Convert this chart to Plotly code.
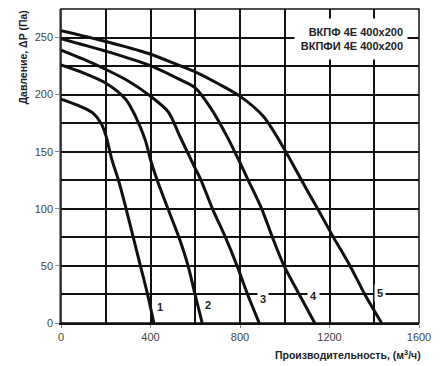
import plotly.graph_objects as go

# curve data: flow (m3/h) and pressure (Pa)
c1_x = [0, 83, 142, 179, 201, 226, 257, 291, 323, 355, 387, 415]
c1_y = [196, 190, 184, 175, 164, 144, 125, 100, 75, 50, 25, 0]
c2_x = [0, 100, 201, 289, 333, 377, 400, 430, 478, 527, 568, 599, 631]
c2_y = [226, 219, 210, 196, 181, 160, 143, 125, 100, 75, 50, 25, 0]
c3_x = [0, 100, 201, 300, 391, 479, 530, 596, 626, 677, 735, 787, 834, 886]
c3_y = [239, 231, 222, 212, 200, 185, 164, 137, 125, 100, 75, 50, 25, 0]
c4_x = [0, 201, 391, 523, 600, 670, 743, 801, 837, 897, 945, 997, 1065, 1134]
c4_y = [249, 238, 226, 214, 206, 188, 163, 140, 125, 100, 75, 50, 25, 0]
c5_x = [0, 201, 391, 523, 600, 699, 801, 904, 999, 1075, 1147, 1218, 1292, 1358, 1433]
c5_y = [256, 246.5, 236, 226, 220, 210, 198.5, 181, 152, 125, 100, 75, 50, 25, 0]

curves = [(c1_x, c1_y), (c2_x, c2_y), (c3_x, c3_y), (c4_x, c4_y), (c5_x, c5_y)]
labels = ["1", "2", "3", "4", "5"]
label_x = [444, 655, 901, 1130, 1426]
label_y = [14, 16, 21, 23.5, 26]

title_lines = ["ВКПФ 4Е 400x200", "ВКПФИ 4Е 400x200"]
x_title = "Производительность, (м<sup>3</sup>/ч)"
y_title = "Давление, ΔP (Па)"

FONT = "Liberation Sans, Arial"

fig = go.Figure()
for cx, cy in curves:
    fig.add_trace(go.Scatter(x=cx, y=cy, mode="lines",
                             line=dict(color="#111111", width=3, shape="spline", smoothing=0.8),
                             hoverinfo="skip", showlegend=False))

for t, lx, ly in zip(labels, label_x, label_y):
    fig.add_annotation(x=lx, y=ly, text="<b>" + t + "</b>", showarrow=False,
                       font=dict(family=FONT, size=11, color="#222"),
                       bgcolor="white", borderpad=2)

fig.add_annotation(x=1297, y=249, text="<b>" + "<br>".join(title_lines) + "</b>",
                   showarrow=False, align="right", width=104, height=32,
                   font=dict(family=FONT, size=11, color="#222"),
                   bgcolor="white", borderpad=4)

fig.add_annotation(xref="paper", yref="paper", x=1.012, y=-0.072, xanchor="right", yanchor="top",
                   text="<b>" + x_title + "</b>", showarrow=False,
                   font=dict(family=FONT, size=10.5, color="#222"))
fig.add_annotation(xref="paper", yref="paper", x=-0.107, y=0.845, xanchor="center", yanchor="middle",
                   text="<b>" + y_title + "</b>", showarrow=False, textangle=-90,
                   font=dict(family=FONT, size=10.5, color="#222"))

fig.add_shape(type="rect", xref="paper", yref="paper", x0=0, y0=0, x1=1, y1=1,
              line=dict(color="#111", width=1.5))

axis_font = dict(family=FONT, size=11, color="#444")
fig.update_xaxes(range=[0, 1600], dtick=400, tick0=0, showgrid=True, gridcolor="#111", gridwidth=1.5,
                 minor=dict(dtick=200, showgrid=True, gridcolor="#111", gridwidth=1.5),
                 zeroline=False, showline=True, linecolor="#111", linewidth=1.5,
                 ticks="outside", ticklen=3, tickcolor="#888", tickfont=axis_font)
fig.update_yaxes(range=[0, 275], dtick=50, tick0=0, showgrid=True, gridcolor="#111", gridwidth=1.5,
                 minor=dict(dtick=25, showgrid=True, gridcolor="#111", gridwidth=1.5),
                 zeroline=False, showline=True, linecolor="#888", linewidth=1.5,
                 ticks="outside", ticklen=4, tickcolor="#888", tickfont=axis_font)

fig.update_layout(width=440, height=366, margin=dict(l=61, r=15, t=9, b=43),
                  plot_bgcolor="white", paper_bgcolor="white", showlegend=False)

fig.write_html("out.html")
